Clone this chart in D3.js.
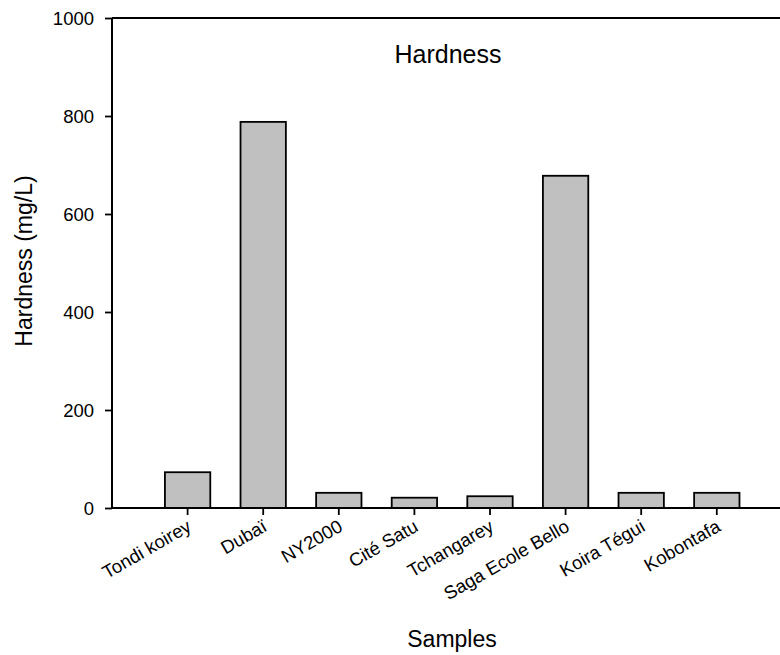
<!DOCTYPE html>
<html>
<head>
<meta charset="utf-8">
<script src="https://cdn.jsdelivr.net/npm/d3@7"></script>
<style>
  html, body { margin: 0; padding: 0; background: #fff; }
  svg { display: block; font-family: "Liberation Sans", Arial, sans-serif; }
</style>
</head>
<body>
<svg id="chart" width="780" height="655"></svg>
<script>
// Total hardness per sampling site (mg/L)
const categories = ["Tondi koirey", "Dubaï", "NY2000", "Cité Satu", "Tchangarey", "Saga Ecole Bello", "Koira Tégui", "Kobontafa"];
const hardness = [73, 788, 31, 21, 24, 678, 31, 31];
const yTicks = [0, 200, 400, 600, 800, 1000];

const svg = d3.select("#chart");
const plotLeft = 112, plotTop = 18, plotBottom = 508, plotRight = 780;
const font = "Liberation Sans, Arial, sans-serif";

const y = d3.scaleLinear().domain([0, 1000]).range([plotBottom, plotTop]);
const x = d3.scaleBand()
  .domain(categories)
  .range([149.8, 754.6])
  .paddingInner(0.4)
  .paddingOuter(0.2);

// Bars
svg.append("g").selectAll("rect")
  .data(categories.map((c, i) => ({ c, v: hardness[i] })))
  .join("rect")
  .attr("x", d => x(d.c))
  .attr("y", d => y(d.v))
  .attr("width", x.bandwidth())
  .attr("height", d => y(0) - y(d.v))
  .attr("fill", "#c0c0c0")
  .attr("stroke", "#000")
  .attr("stroke-width", 1.8);

// Top frame line runs to the right edge
svg.append("line").attr("x1", plotLeft).attr("x2", plotRight).attr("y1", plotTop).attr("y2", plotTop)
  .attr("stroke", "#000").attr("stroke-width", 2);

// Y axis
const yAxis = svg.append("g")
  .attr("transform", `translate(${plotLeft},0)`)
  .call(d3.axisLeft(y).tickValues(yTicks).tickSize(7).tickPadding(11).tickFormat(d3.format("d")));
yAxis.select(".domain").attr("stroke-width", 2).attr("d", `M0,${plotBottom}V${plotTop}`);
yAxis.selectAll(".tick line").attr("stroke-width", 1.8);
yAxis.selectAll(".tick text").attr("font-size", 18.5).attr("fill", "#000")
  .attr("font-family", font).attr("dy", "0.36em");

// X axis
const xAxis = svg.append("g")
  .attr("transform", `translate(0,${plotBottom})`)
  .call(d3.axisBottom(x).tickSize(7).tickSizeOuter(0));
xAxis.select(".domain").attr("stroke-width", 2).attr("d", `M${plotLeft},0H${plotRight}`);
xAxis.selectAll(".tick line").attr("stroke-width", 1.8);
xAxis.selectAll(".tick text")
  .attr("font-size", 18.5).attr("fill", "#000")
  .attr("font-family", font)
  .attr("text-anchor", "end")
  .attr("dy", 0)
  .attr("y", 0)
  .attr("transform", "translate(5,22) rotate(-30)");

// Title
svg.append("text").attr("x", 448).attr("y", 63).attr("text-anchor", "middle")
  .attr("font-family", font).attr("font-size", 25).text("Hardness");

// Axis titles
svg.append("text").attr("x", 452).attr("y", 647).attr("text-anchor", "middle")
  .attr("font-family", font).attr("font-size", 23).text("Samples");
svg.append("text").attr("transform", "translate(31.5,261) rotate(-90)").attr("text-anchor", "middle")
  .attr("font-family", font).attr("font-size", 23).text("Hardness (mg/L)");
</script>
</body>
</html>
